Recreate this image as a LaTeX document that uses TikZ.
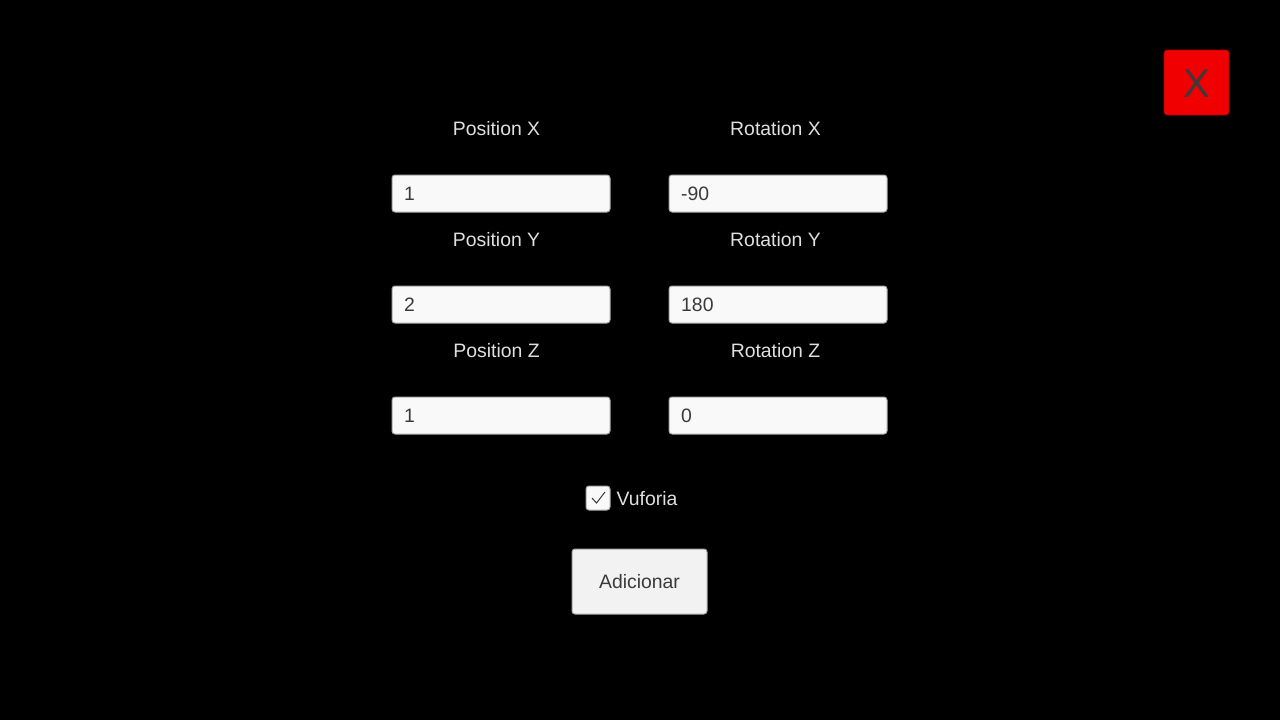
\documentclass[tikz,border=0pt]{standalone}
\usepackage{fontspec}
\setmainfont{Liberation Sans}
\definecolor{lbl}{HTML}{E0E0E0}
\definecolor{fieldtxt}{HTML}{3A3A3A}
\definecolor{fieldfill}{HTML}{F9F9F9}
\definecolor{fieldborder}{HTML}{A8A8A8}
\definecolor{closered}{HTML}{F00000}
\tikzset{
  lbltext/.style={text=lbl, font=\fontsize{19.4}{21}\selectfont, inner sep=0pt, anchor=center},
  field/.style={draw=fieldborder, line width=1pt, fill=fieldfill, rounded corners=3pt},
  fieldval/.style={text=fieldtxt, font=\fontsize{19.4}{21}\selectfont, inner sep=0pt, anchor=west},
}
\begin{document}
\begin{tikzpicture}[x=1pt,y=-1pt]
\fill[black] (0,0) rectangle (1280,720);
\useasboundingbox (0,0) rectangle (1280,720);
% close button
\node[draw=closered!70!black, line width=0.6pt, fill=closered, rounded corners=3pt, minimum width=65pt, minimum height=65pt, inner sep=0pt] (close) at (1196.5,82.5) {};
\node[text=fieldtxt, font=\fontsize{40}{42}\selectfont, inner sep=0pt] (closex) at (1196.5,83.5) {X};
% labels and fields
\foreach \name/\lab/\val/\cx/\lx/\cy in {px/Position X/1/501/496.5/0, py/Position Y/2/501/496.5/111, pz/Position Z/1/501/496.5/222, rx/Rotation X/-90/778/775.5/0, ry/Rotation Y/180/778/775.5/111, rz/Rotation Z/0/778/775.5/222}{
  \node[lbltext] (\name lab) at (\lx,128.7+\cy) {\lab};
  \node[field, minimum width=218pt, minimum height=37pt, inner sep=0pt] (\name box) at (\cx,193.5+\cy) {};
  \node[fieldval] (\name val) at ([xshift=12.5pt]\name box.west) {\val};
}
% checkbox
\node[draw=fieldborder, line width=1pt, fill=fieldfill, rounded corners=3pt, minimum width=24pt, minimum height=24pt, inner sep=0pt] (chk) at (598,498) {};
\draw[fieldtxt, line width=1pt] ([shift={(-6,0)}]chk.center) -- ([shift={(-1.5,5)}]chk.center) -- ([shift={(7,-6)}]chk.center);
\node[lbltext, anchor=west] (vuf) at (616.5,498.5) {Vuforia};
% button
\node[draw=fieldborder, line width=1pt, fill=fieldfill!97!black, rounded corners=3pt, minimum width=135pt, minimum height=65pt, inner sep=0pt, text=fieldtxt, font=\fontsize{19.4}{21}\selectfont] (add) at (639.5,581.5) {Adicionar};
\end{tikzpicture}
\end{document}
